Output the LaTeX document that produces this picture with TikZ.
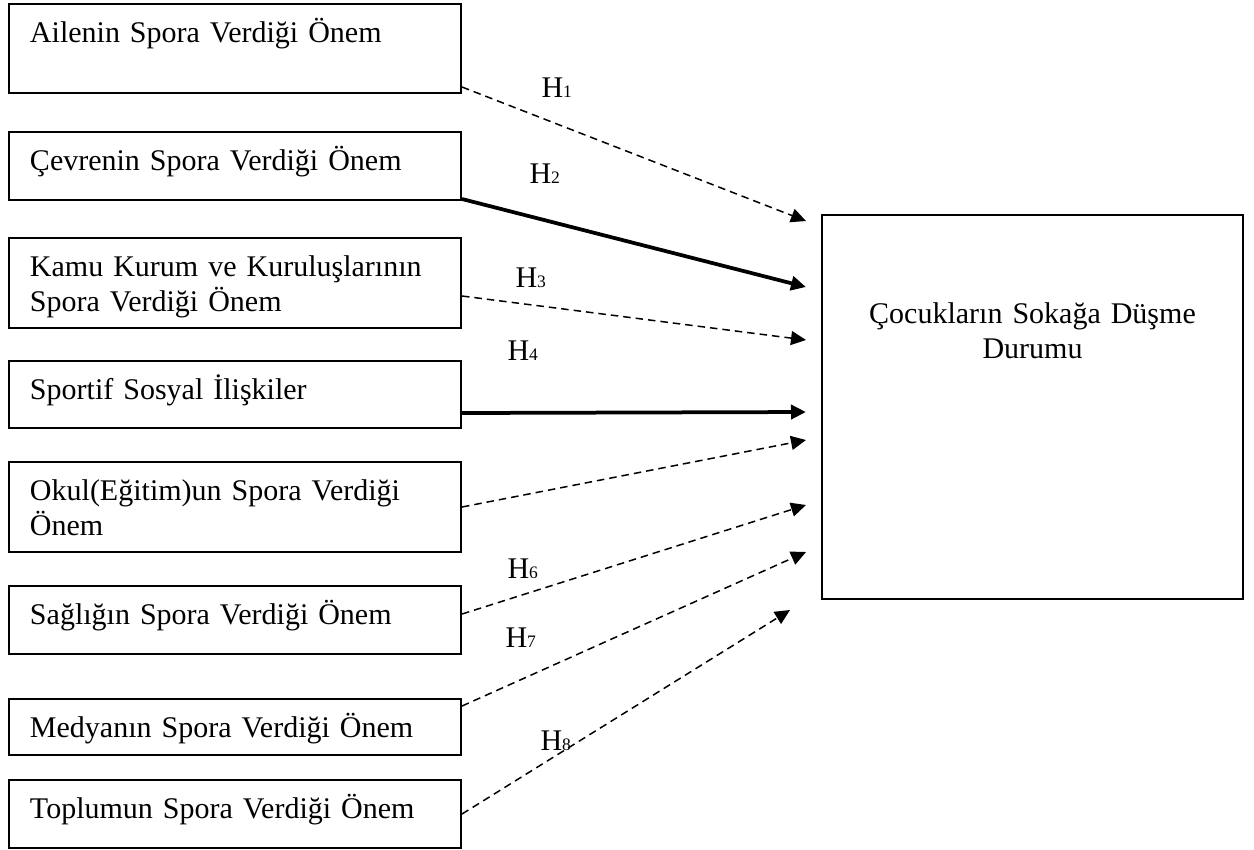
\documentclass[tikz,border=0pt]{standalone}
\usepackage{fontspec}
\setmainfont{Liberation Serif}
\usetikzlibrary{arrows.meta}
\usetikzlibrary{positioning}

\begin{document}
\begin{tikzpicture}[x=0.4pt,y=-0.4pt,->,>={Triangle[length=6pt,width=5.6pt]},font=\fontsize{12}{14}\selectfont,
		faktor/.style={draw,line width=0.8pt,anchor=north west,inner xsep=8.4pt,inner ysep=0pt,text width=164pt,align=left,text height=15.2pt},
		sonuc/.style={draw,line width=0.8pt,anchor=north west,inner sep=0pt,text width=168.4pt,align=center,text height=43.2pt,text depth=110.4pt},
		hip/.style={anchor=base west,inner sep=0pt},
		kesik/.style={line width=0.6pt,dash pattern=on 3pt off 2pt},
		kalin/.style={line width=1.5pt}]
		\useasboundingbox (0,0) rectangle (1254,849);
		\node[faktor,text depth=20.4pt] (aile) at (8,3) {Ailenin Spora Verdiği Önem};
		\node[faktor,text depth=12pt] (cevre) at (8,131) {Çevrenin Spora Verdiği Önem};
		\node[faktor,text depth=20.8pt] (kamu) at (8,237) {Kamu Kurum ve Kuruluşlarının\\Spora Verdiği Önem};
		\node[faktor,text depth=11.6pt] (sosyal) at (8,360) {Sportif Sosyal İlişkiler};
		\node[faktor,text depth=20.8pt] (okul) at (8,461) {Okul(Eğitim)un Spora Verdiği\\Önem};
		\node[faktor,text depth=12pt] (saglik) at (8,585) {Sağlığın Spora Verdiği Önem};
		\node[faktor,text depth=7.2pt] (medya) at (8,698) {Medyanın Spora Verdiği Önem};
		\node[faktor,text depth=12pt] (toplum) at (8,779) {Toplumun Spora Verdiği Önem};
		\node[sonuc] (durum) at (821,214) {Çocukların Sokağa Düşme\\Durumu};
		\coordinate (u1) at (806,221);
		\coordinate (u2) at (806,287);
		\coordinate (u3) at (806,340);
		\coordinate (u4) at (806,412);
		\coordinate (u5) at (806,440);
		\coordinate (u6) at (806,505);
		\coordinate (u7) at (806,552);
		\coordinate (u8) at (790,610);
		\draw[kesik] ([yshift=-15.4pt]aile.east) -- (u1);
		\draw[kalin] ([yshift=-13.2pt]cevre.east) -- (u2);
		\draw[kesik] ([yshift=-5.2pt]kamu.east) -- (u3);
		\draw[kalin] ([yshift=-7.4pt]sosyal.east) -- (u4);
		\draw[kesik] (okul.east) -- (u5);
		\draw[kesik] ([yshift=2.4pt]saglik.east) -- (u6);
		\draw[kesik] ([yshift=8.4pt]medya.east) -- (u7);
		\draw[kesik] (toplum.east) -- (u8);
		\node[hip] (h1) at (541,97) {H{\fontsize{7}{8}\selectfont 1}};
		\node[hip] (h2) at (529,183) {H{\fontsize{7}{8}\selectfont 2}};
		\node[hip] (h3) at (515,287) {H{\fontsize{7}{8}\selectfont 3}};
		\node[hip] (h4) at (507,360) {H{\fontsize{7}{8}\selectfont 4}};
		\node[hip] (h6) at (507,578) {H{\fontsize{7}{8}\selectfont 6}};
		\node[hip] (h7) at (505,647) {H{\fontsize{7}{8}\selectfont 7}};
		\node[hip] (h8) at (540,750) {H{\fontsize{7}{8}\selectfont 8}};
\end{tikzpicture}
\end{document}
